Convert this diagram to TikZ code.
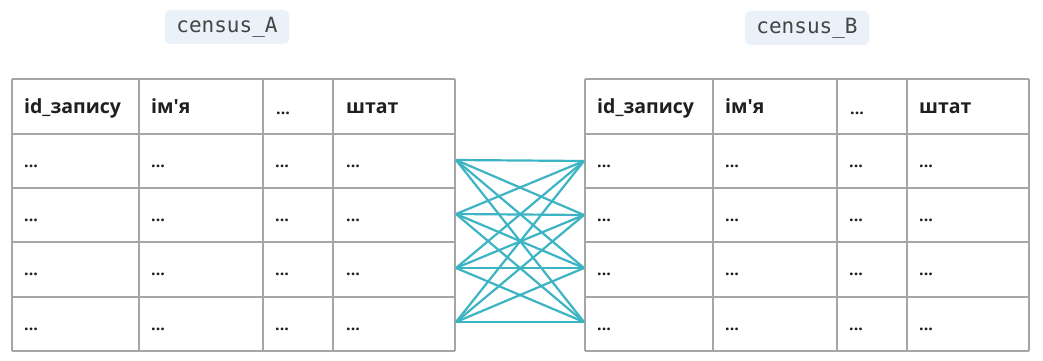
\documentclass[tikz,border=0pt]{standalone}
\usepackage{fontspec}
\setmainfont{Open Sans}[Ligatures=TeXOff]
\newfontfamily\monof{DejaVu Sans Mono}
\definecolor{gridc}{HTML}{A6A6A6}
\definecolor{linkc}{HTML}{3DB4C4}
\definecolor{tagbg}{HTML}{EAF1F8}
\definecolor{tagtx}{HTML}{444444}
\begin{document}
\begin{tikzpicture}[x=1pt,y=-1pt,
  gridline/.style={draw=gridc,line width=1.4pt},
  hdr/.style={anchor=base west,font=\fontsize{19.5}{23}\selectfont\bfseries,text=black!88,inner sep=0pt},
  cell/.style={anchor=base west,font=\fontsize{16}{19}\selectfont\bfseries,text=black!88,inner sep=0pt},
  tag/.style={fill=tagbg,rounded corners=5pt,font=\monof\fontsize{21}{24}\selectfont,text=tagtx,minimum width=124pt,minimum height=34pt,inner sep=0pt},
  link/.style={draw=linkc,line width=2.2pt}]
\useasboundingbox (0,0) rectangle (1043,361);
\fill[white] (0,0) rectangle (1043,361);
% tags
\node[tag] (tagA) at (227,27) {census\_A};
\node[tag] (tagB) at (807,28) {census\_B};
% table A
\foreach \x in {12,139,263,333,455} \draw[gridline] (\x,79) -- (\x,351);
\foreach \y in {79,134,188,242,297,351} \draw[gridline] (12,\y) -- (455,\y);
% table B
\foreach \x in {585,713,837,907,1029} \draw[gridline] (\x,79) -- (\x,351);
\foreach \y in {79,134,188,242,297,351} \draw[gridline] (585,\y) -- (1029,\y);
% headers A
\node[hdr] (hA1) at (24,113) {id\_запису};
\node[hdr] (hA2) at (151,113) {ім'я};
\node[cell] (hA3) at (276,114) {...};
\node[hdr] (hA4) at (346,113) {штат};
% headers B
\node[hdr] (hB1) at (597,113) {id\_запису};
\node[hdr] (hB2) at (725,113) {ім'я};
\node[cell] (hB3) at (850,114) {...};
\node[hdr] (hB4) at (919,113) {штат};
% cells
\foreach \r/\y in {1/167,2/221,3/275,4/330}{
  \node[cell] (a\r c1) at (24,\y) {...};
  \node[cell] (a\r c2) at (151,\y) {...};
  \node[cell] (a\r c3) at (275,\y) {...};
  \node[cell] (a\r c4) at (346,\y) {...};
  \node[cell] (b\r c1) at (597,\y) {...};
  \node[cell] (b\r c2) at (725,\y) {...};
  \node[cell] (b\r c3) at (849,\y) {...};
  \node[cell] (b\r c4) at (919,\y) {...};
}
% link points
\coordinate (L1) at (456,160);
\coordinate (L2) at (456,214);
\coordinate (L3) at (456,268);
\coordinate (L4) at (456,322);
\coordinate (R1) at (584,161);
\coordinate (R2) at (584,215);
\coordinate (R3) at (584,268);
\coordinate (R4) at (584,322);
\foreach \i in {1,2,3,4}{
  \foreach \j in {1,2,3,4}{
    \draw[link] (L\i) -- (R\j);
  }
}
\end{tikzpicture}
\end{document}
